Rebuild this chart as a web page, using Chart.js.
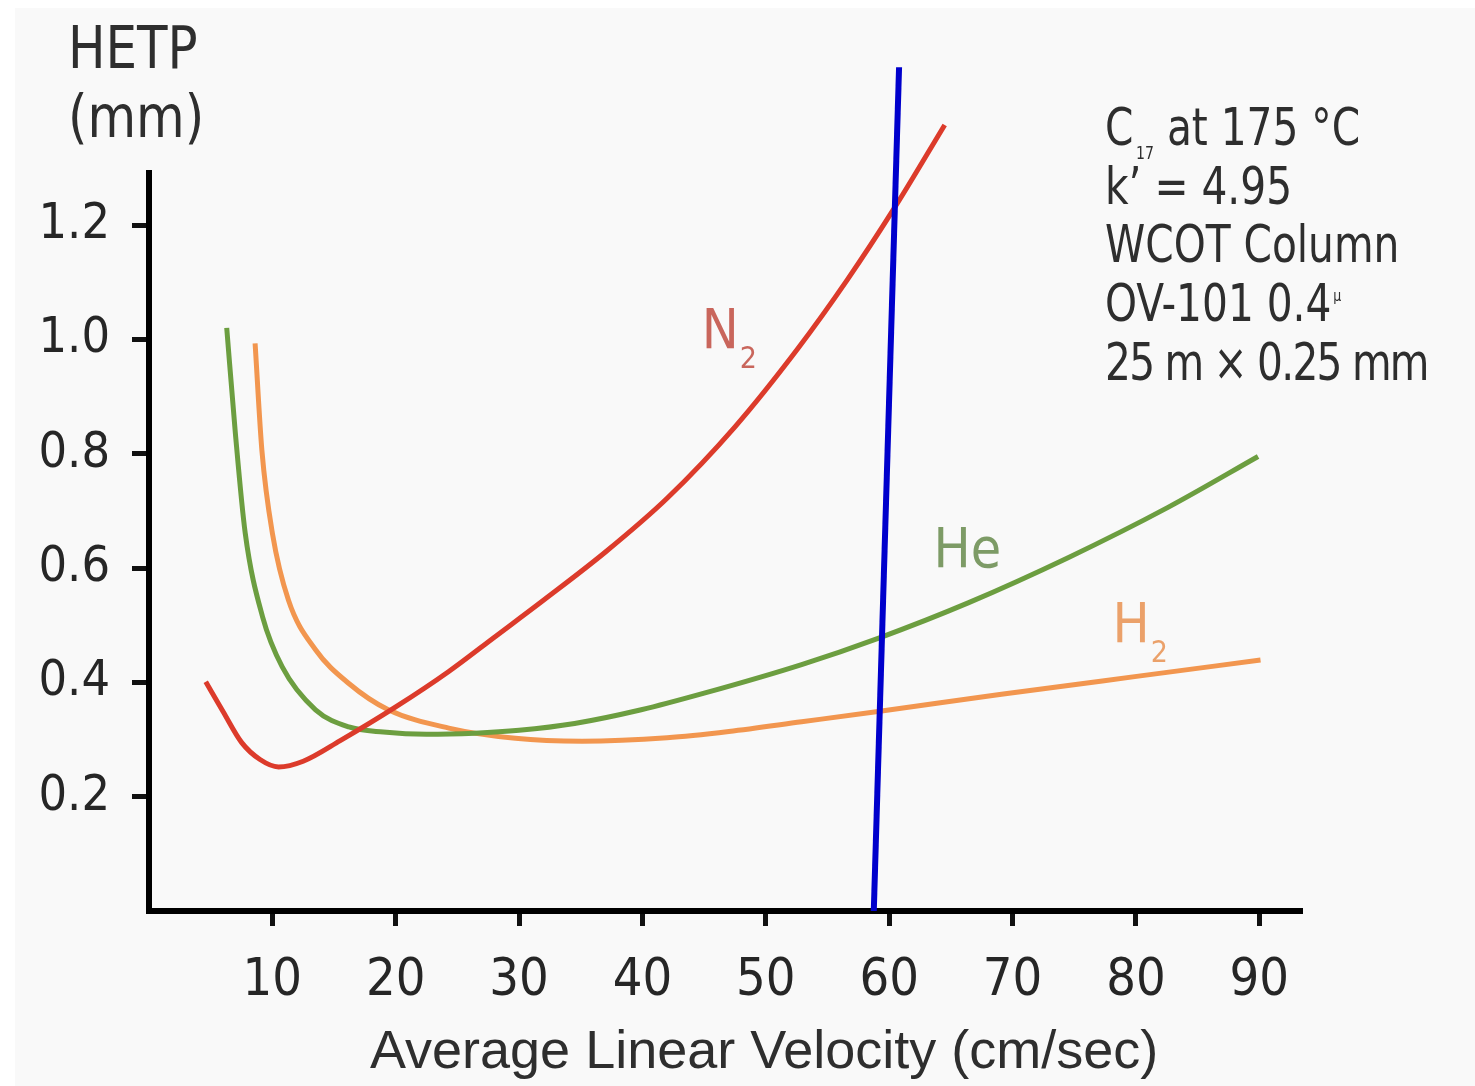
<!DOCTYPE html>
<html>
<head>
<meta charset="utf-8">
<script src="https://cdn.jsdelivr.net/npm/chart.js@4.4.1/dist/chart.umd.min.js"></script>
<style>
  html, body { margin: 0; padding: 0; background: #fff; }
  #wrap { position: relative; width: 1475px; height: 1086px; overflow: hidden; }
  #bg { position: absolute; left: 15px; top: 8px; right: 0; bottom: 0; background: #f9f9f9; }
  canvas { position: absolute; left: 0; top: 0; }
  .txt { position: absolute; white-space: nowrap; color: #2e2e2e; transform-origin: 0 0;
         font-family: 'DejaVu Sans Condensed', 'DejaVu Sans', sans-serif; }
  #hetp { left: 68px; top: 13px; font-size: 59px; line-height: 69px; transform: scaleX(0.94); }
  #note { left: 1105px; top: 98px; font-size: 52px; line-height: 58.7px; transform: scaleX(0.87); }
  #xtitle { left: 370px; top: 1019px; font-size: 54px; line-height: 60px;
            font-family: 'Liberation Sans', sans-serif; color: #2e2e2e; }
  .sub { font-size: 18px; line-height: 0; position: relative; top: 14px; margin-left: 3px; }
  .sup { font-size: 16px; line-height: 0; position: relative; top: -20px; margin-left: 2px; }
  .tight { letter-spacing: -2px; }
</style>
</head>
<body>
<div id="wrap">
  <div id="bg"></div>
  <canvas id="chart1" width="1475" height="1086"></canvas>
  <div class="txt" id="hetp">HETP<br>(mm)</div>
  <div class="txt" id="note">C<span class="sub">17</span> at 175 °C<br>k’ = 4.95<br>WCOT Column<br>OV-101 0.4<span class="sup">µ</span><br><span class="tight">25 m × 0.25 mm</span></div>
  <div class="txt" id="xtitle">Average Linear Velocity (cm/sec)</div>
</div>
<script>
(function() {

  // tick labels
  const xTicks = [10, 20, 30, 40, 50, 60, 70, 80, 90]
  const yTicks = [0.2, 0.4, 0.6, 0.8, 1.0, 1.2]

  // N2 curve
  const n2X = [4.6, 6, 7.5, 9, 10.5, 12.5, 15.5, 20, 24.3, 28, 32, 37, 42, 47.5, 52.6, 56.6, 60.4, 64.5]
  const n2Y = [0.401, 0.349, 0.295, 0.265, 0.252, 0.262, 0.298, 0.357, 0.419, 0.479, 0.544, 0.628, 0.722, 0.847, 0.984, 1.104, 1.229, 1.375]

  // He curve
  const heX = [6.3, 7.0, 7.8, 9.2, 10.8, 13.5, 16.2, 19, 22.5, 26.4, 30, 34.5, 39.9, 45, 52.9, 59.1, 66.4, 74.5, 82.6, 89.9]
  const heY = [1.02, 0.836, 0.661, 0.515, 0.427, 0.352, 0.322, 0.313, 0.309, 0.311, 0.316, 0.328, 0.352, 0.381, 0.431, 0.477, 0.539, 0.618, 0.706, 0.795]

  // H2 curve
  const h2X = [8.6, 9.15, 10, 11.3, 13.5, 16.2, 19.4, 24.3, 29.7, 35.1, 42, 47, 52.9, 59.1, 69.1, 79.9, 90.1]
  const h2Y = [0.993, 0.806, 0.661, 0.544, 0.457, 0.398, 0.352, 0.320, 0.302, 0.297, 0.303, 0.314, 0.331, 0.349, 0.379, 0.410, 0.439]

  // blue marker line
  const markX = [58.75, 60.8]
  const markY = [0, 1.476]

  const fontCond = "'DejaVu Sans Condensed', 'DejaVu Sans', sans-serif"

  const pts = (xs, ys) => xs.map((x, i) => ({x: x, y: ys[i]}))

  // curve names written next to the lines
  const curveNames = {
    id: 'curveNames',
    afterDatasetsDraw(chart) {
      const ctx = chart.ctx
      const sx = chart.scales.x, sy = chart.scales.y
      const names = [
        {t: 'N', s: '2', x: 44.8, y: 0.985, c: '#c9665c'},
        {t: 'He', s: '', x: 63.6, y: 0.602, c: '#7d9b66'},
        {t: 'H', s: '2', x: 78.1, y: 0.4705, c: '#eba16a'}
      ]
      ctx.save()
      ctx.textBaseline = 'alphabetic'
      ctx.textAlign = 'left'
      names.forEach(n => {
        const px = sx.getPixelForValue(n.x)
        const py = sy.getPixelForValue(n.y)
        ctx.fillStyle = n.c
        ctx.font = '55px ' + fontCond
        ctx.fillText(n.t, px, py)
        if (n.s) {
          const w = ctx.measureText(n.t).width
          ctx.font = '30px ' + fontCond
          ctx.fillText(n.s, px + w + 1, py + 20)
        }
      })
      ctx.restore()
    }
  }

  new Chart(document.getElementById('chart1'), {
    type: 'line',
    data: {
      datasets: [
        {label: 'marker', data: pts(markX, markY), borderColor: '#0000cc', borderWidth: 6, clip: false},
        {label: 'N2', data: pts(n2X, n2Y), borderColor: '#dc3b2b', borderWidth: 5, cubicInterpolationMode: 'monotone', clip: false},
        {label: 'He', data: pts(heX, heY), borderColor: '#6c9e40', borderWidth: 5, cubicInterpolationMode: 'monotone', clip: false},
        {label: 'H2', data: pts(h2X, h2Y), borderColor: '#f2964f', borderWidth: 5, cubicInterpolationMode: 'monotone', clip: false}
      ]
    },
    options: {
      responsive: false,
      animation: false,
      layout: {padding: {top: 173, right: 175, left: 0, bottom: 0}},
      elements: {point: {radius: 0}},
      plugins: {legend: {display: false}, tooltip: {enabled: false}},
      scales: {
        x: {
          type: 'linear', min: 0, max: 93.3,
          afterBuildTicks: s => { s.ticks = xTicks.map(v => ({value: v})) },
          afterFit: s => { s.height = 175 },
          border: {display: true, color: '#000', width: 6},
          grid: {drawOnChartArea: false, drawTicks: true, tickLength: 15, color: '#111', lineWidth: 5},
          ticks: {padding: 24, color: '#262626', maxRotation: 0, autoSkip: false,
                  font: {family: fontCond, size: 52}}
        },
        y: {
          type: 'linear', min: 0, max: 1.291,
          afterBuildTicks: s => { s.ticks = yTicks.map(v => ({value: v})) },
          afterFit: s => { s.width = 149 },
          border: {display: true, color: '#000', width: 6},
          grid: {drawOnChartArea: false, drawTicks: true, tickLength: 17, color: '#111', lineWidth: 5},
          ticks: {padding: 22, color: '#262626', callback: v => v.toFixed(1),
                  font: {family: fontCond, size: 50}}
        }
      }
    },
    plugins: [curveNames]
  })

})();
</script>
</body>
</html>
